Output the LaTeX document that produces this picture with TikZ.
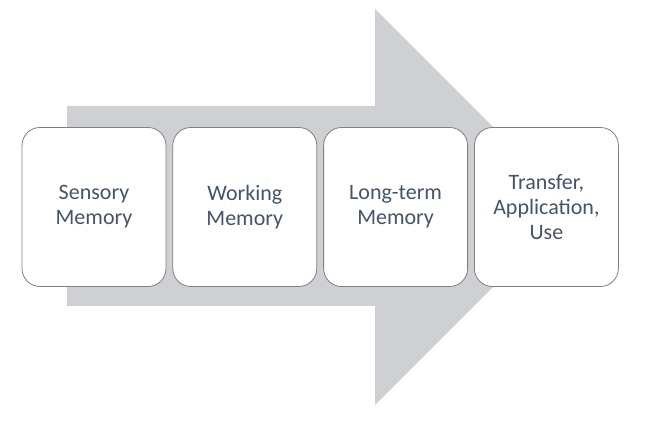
\documentclass[tikz,border=0pt]{standalone}
\usepackage{fontspec}
\setmainfont{Carlito}
\usepackage{xcolor}
\definecolor{cArrow}{HTML}{CFD0D4}
\definecolor{cLine}{HTML}{7F7F7F}
\definecolor{cText}{HTML}{44546A}
\usetikzlibrary{positioning}
\tikzset{
  mem-box/.style={draw=cLine,line width=0.8pt,fill=white,rounded corners=18pt,
    minimum width=144pt,minimum height=159pt,align=center,
    text=cText,font=\fontsize{22}{25}\selectfont},
}

\begin{document}
\begin{tikzpicture}[x=1pt,y=1pt,node distance=6pt]
  \useasboundingbox (0,0) rectangle (648,422);
  % big arrow behind the boxes
  \fill[cArrow] (67,316) -- (375,316) -- (375,413) -- (573,215)
    -- (375,17) -- (375,116) -- (67,116) -- cycle;
  \node[mem-box] (sens) at (94,215) {Sensory\\Memory};
  \node[mem-box,right=of sens] (work) {Working\\Memory};
  \node[mem-box,right=of work] (ltm)  {Long-term\\Memory};
  \node[mem-box,right=of ltm]  (use)  {Transfer,\\Application,\\Use};
\end{tikzpicture}
\end{document}
